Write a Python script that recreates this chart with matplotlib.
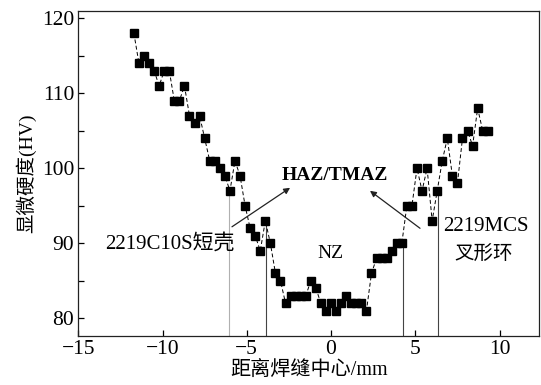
import matplotlib
matplotlib.use('Agg')
import matplotlib.pyplot as plt
from matplotlib.ticker import MultipleLocator

plt.rcParams['font.family'] = ['Liberation Serif', 'Noto Sans CJK SC']
plt.rcParams['mathtext.fontset'] = 'stix'

# distance from weld centre (mm) and microhardness (HV)
dist = [-11.7, -11.4, -11.1, -10.8, -10.5, -10.2, -9.9, -9.6, -9.3, -9.0,
        -8.7, -8.4, -8.1, -7.8, -7.5, -7.2, -6.9, -6.6, -6.3, -6.0,
        -5.7, -5.4, -5.1, -4.8, -4.5, -4.2, -3.9, -3.6, -3.3, -3.0,
        -2.7, -2.4, -2.1, -1.8, -1.5, -1.2, -0.9, -0.6, -0.3, 0.0,
        0.3, 0.6, 0.9, 1.2, 1.5, 1.8, 2.1, 2.4, 2.7, 3.0,
        3.3, 3.6, 3.9, 4.2, 4.5, 4.8, 5.1, 5.4, 5.7, 6.0,
        6.3, 6.6, 6.9, 7.2, 7.5, 7.8, 8.1, 8.4, 8.7, 9.0, 9.3]
hv = [118, 114, 115, 114, 113, 111, 113, 113, 109, 109,
      111, 107, 106, 107, 104, 101, 101, 100, 99, 97,
      101, 99, 95, 92, 91, 89, 93, 90, 86, 85,
      82, 83, 83, 83, 83, 85, 84, 82, 81, 82,
      81, 82, 83, 82, 82, 82, 81, 86, 88, 88,
      88, 89, 90, 90, 95, 95, 100, 97, 100, 93,
      97, 101, 104, 99, 98, 104, 105, 103, 108, 105, 105]

# zone boundary lines (x position, top value)
bound_x = [-6.05, -3.86, 4.29, 6.33]
bound_top = [97, 93, 90, 97]
bound_col = ['#b0b0b0', '#444444', '#444444', '#444444']

fig = plt.figure(figsize=(5.41, 3.85), dpi=100)
ax = fig.add_axes([0.1447, 0.1273, 0.8522, 0.8441])

for bx, bt, bc in zip(bound_x, bound_top, bound_col):
    ax.plot([bx, bx], [77.64, bt], color=bc, lw=0.8, zorder=1)

ax.plot(dist, hv, color='black', lw=0.7, ls=(0, (4, 2.5)), marker='s',
        markersize=5.2, markerfacecolor='black', markeredgecolor='black', zorder=3)

ax.set_xlim(-15, 12.36)
ax.set_ylim(77.64, 120.97)
ax.xaxis.set_major_locator(MultipleLocator(5))
ax.yaxis.set_major_locator(MultipleLocator(10))
ax.yaxis.set_minor_locator(MultipleLocator(5))
ax.tick_params(which='both', direction='in', length=4.5, width=0.9,
               top=False, right=False, labelsize=15.5, pad=3)
for s in ax.spines.values():
    s.set_linewidth(0.9)
    s.set_color('#222222')

ax.set_xticklabels(['\u221215', '\u221210', '\u22125', '0', '5', '10'])
ax.set_xticks([-15, -10, -5, 0, 5, 10])
ax.set_xticklabels(['\u221215', '\u221210', '\u22125', '0', '5', '10'])

ax.set_xlabel('距离焊缝中心/mm', fontsize=14.5, labelpad=1)
ax.set_ylabel('显微硬度(HV)', fontsize=14, labelpad=4)

# annotations
ax.text(-5.75, 90.0, '2219C10S短壳', fontsize=15, ha='right', va='center')
ax.text(0.24, 99.0, 'HAZ/TMAZ', fontsize=14, fontweight='bold', ha='center', va='center')
ax.text(9.17, 92.2, '2219MCS', fontsize=15, ha='center', va='center')
ax.text(9.08, 88.6, '叉形环', fontsize=14, ha='center', va='center')
ax.text(-0.03, 88.7, 'NZ', fontsize=14, ha='center', va='center')

arrow = dict(arrowstyle='-|>', color='#222222', lw=0.9, mutation_scale=9, shrinkA=0, shrinkB=0)
ax.annotate('', xy=(-2.43, 97.4), xytext=(-5.88, 92.2), arrowprops=arrow)
ax.annotate('', xy=(2.31, 97.0), xytext=(5.28, 92.0), arrowprops=arrow)

fig.savefig('out.png', dpi=100)
